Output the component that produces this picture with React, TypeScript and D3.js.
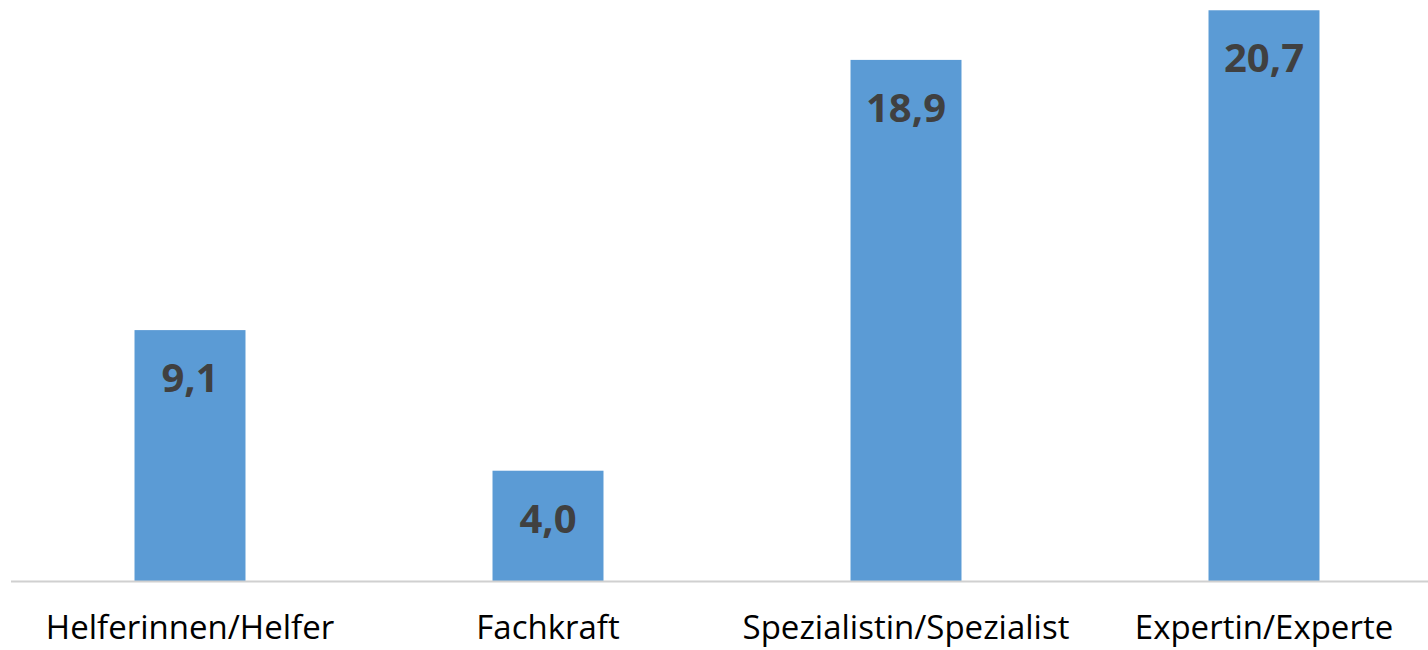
import React from 'react';
import * as d3 from 'd3';

// categories and values
const categories = ['Helferinnen/Helfer', 'Fachkraft', 'Spezialistin/Spezialist', 'Expertin/Experte'];
const values = [9.1, 4.0, 18.9, 20.7];
const valueLabels = ['9,1', '4,0', '18,9', '20,7'];

const W = 1428;
const H = 650;

export default function App() {
  const x = d3.scaleBand<string>()
    .domain(categories)
    .range([11, 1443])
    .paddingInner(0.69)
    .paddingOuter(0.345);
  const y = d3.scaleLinear().domain([0, 21]).range([581, 2]);

  return (
    <svg width={W} height={H} style={{ position: 'absolute', left: 0, top: 0 }}>
      <rect width={W} height={H} fill="#fff" />
      {categories.map((c, i) => (
        <g key={c}>
          <rect
            x={x(c)}
            y={y(values[i])}
            width={x.bandwidth()}
            height={y(0) - y(values[i])}
            fill="#5B9BD5"
          />
          <text
            x={(x(c) as number) + x.bandwidth() / 2}
            y={y(values[i]) + 62}
            textAnchor="middle"
            fontFamily="'Open Sans', sans-serif"
            fontWeight="bold"
            fontSize={40}
            fill="#404040"
          >
            {valueLabels[i]}
          </text>
          <text
            x={(x(c) as number) + x.bandwidth() / 2}
            y={639}
            textAnchor="middle"
            fontFamily="'Open Sans', sans-serif"
            fontSize={33}
            fill="#000"
          >
            {c}
          </text>
        </g>
      ))}
      <line x1={11} x2={W} y1={581.5} y2={581.5} stroke="#d0d0d0" strokeWidth={2} />
    </svg>
  );
}
